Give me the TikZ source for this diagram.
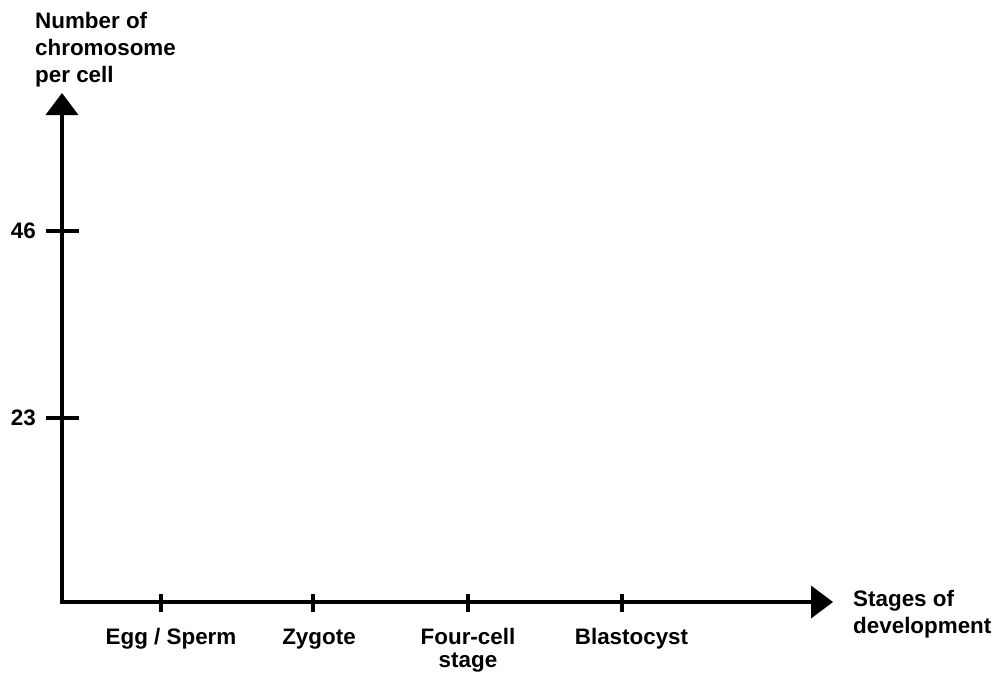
\documentclass[tikz,border=0pt]{standalone}
\usepackage{fontspec}
\setmainfont{Liberation Sans}
\usetikzlibrary{arrows.meta}
\tikzset{
  axis/.style={line width=4pt, line join=miter,
    {Triangle[width=33pt,length=22pt,line width=0pt]}-{Triangle[width=33pt,length=22pt,line width=0pt]}},
  tick/.style={line width=4pt},
  lbl/.style={inner sep=0pt, font=\bfseries\fontsize{22.4}{27}\selectfont},
}
\begin{document}
\begin{tikzpicture}[x=1pt, y=-1pt]
  \useasboundingbox (0,0) rectangle (1001,672);
  % axes
  \coordinate (ytip) at (62,93);
  \coordinate (origin) at (62,602);
  \coordinate (xtip) at (833,602);
  \draw[axis] (ytip) |- (xtip);
  % y ticks
  \coordinate (y46a) at (46,231);  \coordinate (y46b) at (79,231);
  \coordinate (y23a) at (46,418);  \coordinate (y23b) at (79,418);
  \draw[tick] (y46a) -- (y46b);
  \draw[tick] (y23a) -- (y23b);
  \node[lbl, anchor=east] (l46) at (36,231) {46};
  \node[lbl, anchor=east] (l23) at (36,418) {23};
  % x ticks
  \foreach \n/\x in {egg/161, zyg/313, four/468, blast/622} {
    \coordinate (\n a) at (\x,594);
    \coordinate (\n b) at (\x,612);
    \draw[tick] (\n a) -- (\n b);
  }
  \node[lbl, anchor=base] (tegg) at (171,644) {Egg / Sperm};
  \node[lbl, anchor=base] (tzyg) at (319,644) {Zygote};
  % multi-line nodes: the base anchor sits on the last line
  \node[lbl, anchor=base, align=center, font=\bfseries\fontsize{22.4}{23.5}\selectfont]
    (tfour) at (468,667.5) {Four-cell\\stage};
  \node[lbl, anchor=base] (tblast) at (631.5,644) {Blastocyst};
  % axis titles
  \node[lbl, anchor=base west, align=left] (ytitle) at (35,82) {Number of\\chromosome\\per cell};
  \node[lbl, anchor=base west, align=left] (xtitle) at (853,633) {Stages of\\development};
\end{tikzpicture}
\end{document}
